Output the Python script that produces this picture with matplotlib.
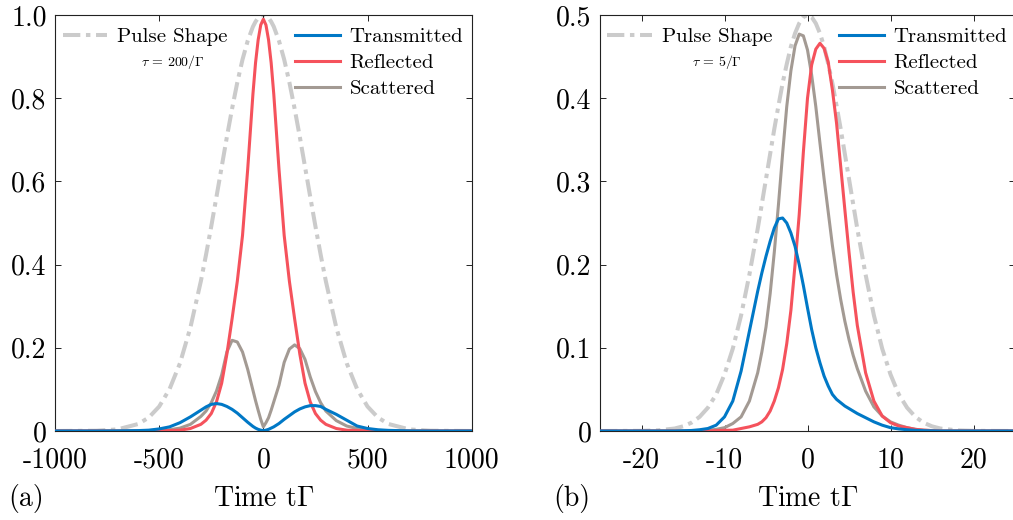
import matplotlib
matplotlib.use('Agg')
import matplotlib.pyplot as plt

plt.rcParams['font.family'] = 'serif'
plt.rcParams['font.serif'] = ['cmr10']
plt.rcParams['mathtext.fontset'] = 'cm'
plt.rcParams['axes.unicode_minus'] = False

# panel (a), tau = 200/Gamma
t_a = [-1000, -800, -700, -600, -550, -500, -450, -400, -350, -300, -275, -250, -225, -200, -175, -150, -125, -100, -75, -50, -37.5, -25, -12.5,
       0, 12.5, 25, 37.5, 50, 75, 100, 125, 150, 175, 200, 225, 250, 275, 300, 350, 400, 450, 500, 550, 600, 700, 800, 1000]
pulse_a = [0, 0.0007, 0.0039, 0.0169, 0.0324, 0.0588, 0.101, 0.163, 0.249, 0.360, 0.424, 0.492, 0.563, 0.635, 0.707, 0.775, 0.838, 0.893, 0.938, 0.972, 0.984, 0.993, 0.998,
           1.0, 0.998, 0.993, 0.984, 0.972, 0.938, 0.893, 0.838, 0.775, 0.707, 0.635, 0.563, 0.492, 0.424, 0.360, 0.249, 0.163, 0.101, 0.0588, 0.0324, 0.0169, 0.0039, 0.0007, 0]
trans_a = [0, 0, 0.0003, 0.001, 0.002, 0.005, 0.01, 0.02, 0.034, 0.05, 0.058, 0.064, 0.066, 0.064, 0.059, 0.052, 0.043, 0.032, 0.021, 0.011, 0.007, 0.004, 0.002,
           0.001, 0.002, 0.004, 0.007, 0.01, 0.018, 0.028, 0.037, 0.046, 0.053, 0.058, 0.061, 0.061, 0.059, 0.052, 0.04, 0.026, 0.012, 0.006, 0.003, 0.0015, 0.0003, 0, 0]
refl_a = [0, 0, 0, 0, 0.0003, 0.0005, 0.001, 0.002, 0.006, 0.016, 0.026, 0.042, 0.07, 0.115, 0.185, 0.27, 0.36, 0.47, 0.63, 0.81, 0.885, 0.94, 0.976,
          0.99, 0.976, 0.94, 0.885, 0.81, 0.63, 0.47, 0.36, 0.27, 0.185, 0.115, 0.07, 0.042, 0.026, 0.016, 0.006, 0.002, 0.001, 0.0005, 0.0003, 0, 0, 0, 0]
scat_a = [0, 0, 0, 0, 0.0005, 0.001, 0.003, 0.007, 0.016, 0.035, 0.048, 0.068, 0.096, 0.135, 0.19, 0.218, 0.214, 0.19, 0.148, 0.098, 0.073, 0.05, 0.028,
          0.01, 0.02, 0.032, 0.05, 0.07, 0.11, 0.165, 0.197, 0.207, 0.198, 0.172, 0.13, 0.095, 0.068, 0.048, 0.025, 0.012, 0.006, 0.003, 0.001, 0.0005, 0, 0, 0]

# panel (b), tau = 5/Gamma
t_b = [-25, -20, -18, -16, -15, -14, -13, -12, -11, -10, -9, -8, -7,
       -6, -5.5, -5, -4.5, -4, -3.5, -3, -2.5, -2, -1.5, -1, -0.5, 0, 0.5, 1, 1.5, 2, 2.5, 3, 3.5, 4, 4.5, 5, 5.5, 6,
       7, 8, 9, 10, 11, 12, 13, 14, 15, 16, 18, 20, 25]
pulse_b = [0, 0.0002, 0.0008, 0.003, 0.0056, 0.0099, 0.017, 0.028, 0.044, 0.068, 0.099, 0.139, 0.188,
           0.243, 0.273, 0.303, 0.333, 0.363, 0.391, 0.418, 0.441, 0.462, 0.478, 0.490, 0.4975, 0.5, 0.4975, 0.490, 0.478, 0.462, 0.441, 0.418, 0.391, 0.363, 0.333, 0.303, 0.273, 0.243,
           0.188, 0.139, 0.099, 0.068, 0.044, 0.028, 0.017, 0.0099, 0.0056, 0.003, 0.0008, 0.0002, 0]
trans_b = [0, 0, 0, 0, 0.0003, 0.0006, 0.0015, 0.003, 0.007, 0.017, 0.036, 0.072, 0.12,
           0.168, 0.19, 0.21, 0.228, 0.244, 0.255, 0.256, 0.25, 0.238, 0.222, 0.2, 0.175, 0.148, 0.122, 0.1, 0.082, 0.066, 0.054, 0.044, 0.038, 0.034, 0.03, 0.027, 0.024, 0.021,
           0.016, 0.011, 0.007, 0.004, 0.0025, 0.0015, 0.0008, 0.0004, 0.0002, 0, 0, 0, 0]
refl_b = [0, 0, 0, 0, 0, 0, 0, 0, 0.0005, 0.0008, 0.001, 0.003, 0.005,
          0.008, 0.011, 0.016, 0.024, 0.036, 0.052, 0.074, 0.105, 0.145, 0.2, 0.26, 0.335, 0.40, 0.44, 0.459, 0.466, 0.46, 0.443, 0.41, 0.37, 0.318, 0.266, 0.215, 0.167, 0.127,
          0.07, 0.036, 0.018, 0.01, 0.006, 0.004, 0.002, 0.001, 0.0005, 0, 0, 0, 0]
scat_b = [0, 0, 0, 0, 0, 0, 0.0005, 0.001, 0.002, 0.004, 0.009, 0.017, 0.036,
          0.07, 0.095, 0.125, 0.165, 0.215, 0.272, 0.333, 0.39, 0.433, 0.463, 0.477, 0.475, 0.458, 0.428, 0.39, 0.346, 0.303, 0.263, 0.223, 0.188, 0.158, 0.132, 0.11, 0.091, 0.075,
          0.048, 0.029, 0.018, 0.011, 0.007, 0.004, 0.002, 0.001, 0.0005, 0, 0, 0, 0]

xticks_a = [-1000, -500, 0, 500, 1000]
yticks_a = [0, 0.2, 0.4, 0.6, 0.8, 1.0]
ylabels_a = ['0', '0.2', '0.4', '0.6', '0.8', '1.0']
xticks_b = [-20, -10, 0, 10, 20]
yticks_b = [0, 0.1, 0.2, 0.3, 0.4, 0.5]
ylabels_b = ['0', '0.1', '0.2', '0.3', '0.4', '0.5']

c_pulse = '#CBCBCB'
c_trans = '#0078C6'
c_refl = '#F5525C'
c_scat = '#A39A93'


def panel(ax, t, pulse, trans, refl, scat, xlim, xticks, ylim, yticks, ylabels, tau, tag):
    hp, = ax.plot(t, pulse, color=c_pulse, lw=2.9, dashes=(4.3, 1.4, 1.1, 1.4), zorder=1)
    hs, = ax.plot(t, scat, color=c_scat, lw=2.2, zorder=2)
    hr, = ax.plot(t, refl, color=c_refl, lw=2.2, zorder=3)
    ht, = ax.plot(t, trans, color=c_trans, lw=2.2, zorder=4)
    ax.set_xlim(xlim)
    ax.set_ylim(ylim)
    ax.set_xticks(xticks)
    ax.set_xticklabels([str(v) for v in xticks])
    ax.set_yticks(yticks)
    ax.set_yticklabels(ylabels)
    ax.tick_params(direction='in', top=True, right=True, length=4, width=0.6, labelsize=20)
    ax.tick_params(axis='x', pad=12)
    ax.tick_params(axis='y', pad=6)
    for s in ax.spines.values():
        s.set_linewidth(0.8)
        s.set_color('#222222')
    ax.set_xlabel(r'Time t$\Gamma$', fontsize=20)
    ax.xaxis.set_label_coords(0.5, -0.180)
    ax.xaxis.label.set_verticalalignment('baseline')
    ax.text(-0.113, -0.180, tag, transform=ax.transAxes, fontsize=20, va='baseline', ha='left')
    l1 = ax.legend([hp], ['Pulse Shape'], loc='upper left', bbox_to_anchor=(0.018, 0.969), frameon=False,
                   fontsize=15, handlelength=2.15, handletextpad=0.45, borderpad=0, borderaxespad=0)
    ax.add_artist(l1)
    ax.legend([ht, hr, hs], ['Transmitted', 'Reflected', 'Scattered'], loc='upper left',
              bbox_to_anchor=(0.577, 0.969), frameon=False, fontsize=15, handlelength=2.15,
              handletextpad=0.45, borderpad=0, borderaxespad=0, labelspacing=0.35)
    ax.text(0.282, 0.887, tau, transform=ax.transAxes, ha='center', va='center', fontsize=10)


fig = plt.figure(figsize=(10.13, 5.2), dpi=100)
ax1 = fig.add_axes([55 / 1013, 1 - 431 / 520, 416.7 / 1013, 416 / 520])
ax2 = fig.add_axes([600 / 1013, 1 - 431 / 520, 415 / 1013, 416 / 520])

panel(ax1, t_a, pulse_a, trans_a, refl_a, scat_a, (-1000, 1000), xticks_a, (0, 1.0), yticks_a, ylabels_a,
      r'$\tau$ = 200/$\Gamma$', '(a)')
panel(ax2, t_b, pulse_b, trans_b, refl_b, scat_b, (-25, 25), xticks_b, (0, 0.5), yticks_b, ylabels_b,
      r'$\tau$ = 5/$\Gamma$', '(b)')

fig.savefig('out.png', dpi=100)
